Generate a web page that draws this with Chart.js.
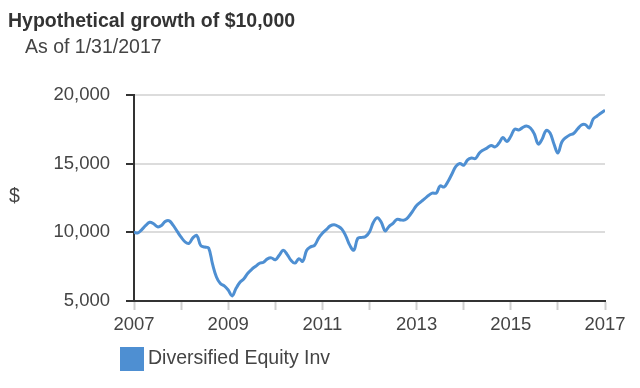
<!DOCTYPE html>
<html lang="en">
<head>
    <meta charset="UTF-8">
    <title>Hypothetical growth of $10,000</title>
    <style>
        body {
            margin: 0;
            background: #fff;
            font-family: "Liberation Sans", Arial, sans-serif;
        }
        .wrap {
            position: relative;
            width: 640px;
            height: 388px;
        }
        .wrap canvas {
            position: absolute;
            left: 0;
            top: 0;
        }
        .title {
            position: absolute;
            left: 8px;
            top: 10px;
            margin: 0;
            font-size: 19.5px;
            line-height: 20px;
            font-weight: bold;
            color: #333;
            white-space: nowrap;
        }
        .subtitle {
            position: absolute;
            left: 25px;
            top: 36px;
            font-size: 19.5px;
            line-height: 20px;
            color: #444;
            white-space: nowrap;
        }
        .y-title {
            position: absolute;
            left: 9px;
            top: 185px;
            font-size: 19.5px;
            line-height: 20px;
            color: #444;
        }
        .legend {
            position: absolute;
            left: 120px;
            top: 347px;
            height: 24px;
            white-space: nowrap;
        }
        .legend .box {
            position: absolute;
            left: 0;
            top: 0;
            width: 24px;
            height: 24px;
        }
        .legend .label {
            position: absolute;
            left: 28px;
            top: 0;
            font-size: 19.5px;
            line-height: 20px;
            color: #444;
        }
    </style>
    <script src="https://cdn.jsdelivr.net/npm/chart.js"></script>
</head>
<body>
    <div class="wrap">
        <canvas id="growthChart"></canvas>
        <h1 class="title">Hypothetical growth of $10,000</h1>
        <div class="subtitle">As of 1/31/2017</div>
        <div class="y-title">$</div>
        <div class="legend" id="legend"></div>
    </div>

    <script>
        // monthly values, Jan 2007 .. Jan 2017
        const startYear = 2007;
        const seriesName = 'Diversified Equity Inv';
        const values = [
            10000, 9960, 10200, 10500, 10730, 10620, 10400, 10500, 10800, 10840, 10500, 10070,
            9650, 9310, 9200, 9600, 9770, 9040, 8930, 8860, 7700, 6750, 6270, 6100,
            5800, 5370, 5920, 6360, 6620, 7020, 7310, 7530, 7750, 7820, 8070, 8140,
            8000, 8330, 8690, 8400, 7960, 7760, 8080, 7890, 8690, 8940, 9050, 9560,
            9930, 10200, 10470, 10560, 10440, 10220, 9710, 9050, 8700, 9560, 9630, 9700,
            10020, 10730, 11060, 10730, 10110, 10440, 10650, 10950, 10900, 10900, 11150, 11550,
            11950, 12200, 12430, 12680, 12860, 12860, 13380, 13300, 13700, 14250, 14800, 15020,
            14880, 15270, 15410, 15380, 15780, 16000, 16150, 16330, 16220, 16500, 16900, 16610,
            17000, 17520, 17450, 17630, 17740, 17600, 17160, 16430, 16800, 17420, 17230, 16430,
            15780, 16580, 16900, 17090, 17200, 17520, 17820, 17850, 17600, 18250, 18470, 18690,
            18900
        ];
        const tickYears = [2007, 2009, 2011, 2013, 2015, 2017];
        const yTicks = [5000, 10000, 15000, 20000];

        const lineColor = '#4e8fd2';
        const fontFamily = '"Liberation Sans", Arial, sans-serif';
        const points = values.map((v, i) => ({ x: startYear + i / 12, y: v }));

        const ctx = document.getElementById('growthChart').getContext('2d');

        const chart = new Chart(ctx, {
            type: 'line',
            data: {
                datasets: [{
                    label: seriesName,
                    data: points,
                    borderColor: lineColor,
                    backgroundColor: lineColor,
                    borderWidth: 3,
                    pointRadius: 0,
                    tension: 0.4,
                    fill: false
                }]
            },
            options: {
                responsive: true,
                maintainAspectRatio: false,
                animation: false,
                layout: {
                    padding: { left: 0, right: 35, top: 95, bottom: 51 }
                },
                plugins: {
                    title: { display: false },
                    tooltip: { enabled: false },
                    legend: { display: false }
                },
                scales: {
                    x: {
                        type: 'linear',
                        min: startYear,
                        max: tickYears[tickYears.length - 1],
                        afterFit: function(axis) { axis.height = 36; },
                        border: { color: '#333', width: 2 },
                        grid: {
                            drawOnChartArea: false,
                            tickLength: 9,
                            tickColor: '#cfcfcf',
                            tickWidth: 2
                        },
                        ticks: {
                            stepSize: 1,
                            autoSkip: false,
                            maxRotation: 0,
                            padding: 4,
                            color: '#444',
                            font: { family: fontFamily, size: 18.5 },
                            callback: function(value) {
                                return tickYears.includes(value) ? String(value) : '';
                            }
                        }
                    },
                    y: {
                        min: yTicks[0],
                        max: yTicks[yTicks.length - 1],
                        afterFit: function(axis) { axis.width = 134; },
                        afterBuildTicks: function(axis) {
                            axis.ticks = yTicks.map(v => ({ value: v }));
                        },
                        border: { color: '#333', width: 2 },
                        grid: {
                            color: '#dcdcdc',
                            lineWidth: 2,
                            tickLength: 8,
                            tickColor: '#333'
                        },
                        ticks: {
                            padding: 16,
                            color: '#444',
                            font: { family: fontFamily, size: 18.5 },
                            callback: function(value) {
                                return value.toLocaleString('en-US');
                            }
                        }
                    }
                }
            }
        });

        // simple html legend built from the datasets
        const legendEl = document.getElementById('legend');
        chart.data.datasets.forEach(ds => {
            const box = document.createElement('span');
            box.className = 'box';
            box.style.background = ds.borderColor;
            const label = document.createElement('span');
            label.className = 'label';
            label.textContent = ds.label;
            legendEl.appendChild(box);
            legendEl.appendChild(label);
        });
    </script>
</body>
</html>
